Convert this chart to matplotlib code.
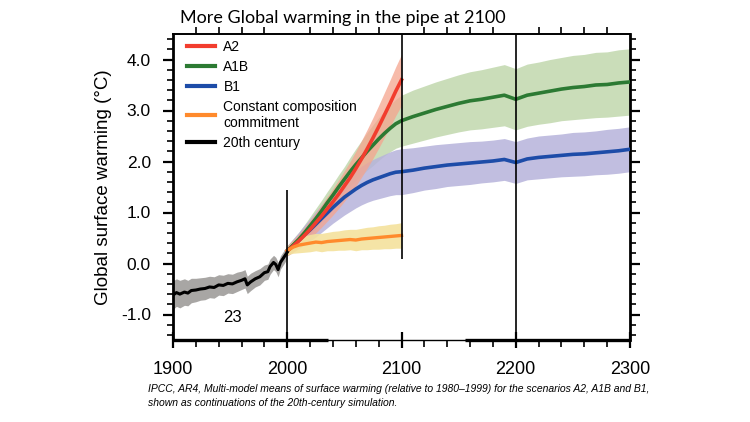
import matplotlib
matplotlib.use("Agg")
import matplotlib.pyplot as plt
import matplotlib.transforms as mtransforms
import numpy as np
from matplotlib.ticker import MultipleLocator
from matplotlib.lines import Line2D

# ---------------- data ----------------
years_20c = [1900, 1903, 1906, 1910, 1913, 1916, 1920, 1924, 1928, 1932, 1936, 1940,
             1944, 1948, 1952, 1956, 1960, 1963, 1965, 1968, 1972, 1976, 1980, 1983,
             1985, 1988, 1990, 1992, 1994, 1997, 2000]
temp_20c = [-0.62, -0.57, -0.60, -0.56, -0.58, -0.53, -0.52, -0.50, -0.49, -0.46, -0.47, -0.42,
            -0.43, -0.39, -0.40, -0.36, -0.33, -0.30, -0.42, -0.36, -0.30, -0.26, -0.18, -0.16,
            -0.06, 0.02, -0.02, -0.12, 0.02, 0.12, 0.22]
spread_20c = [0.28, 0.27, 0.27, 0.26, 0.25, 0.24, 0.23, 0.22, 0.22, 0.21, 0.21, 0.20,
              0.20, 0.19, 0.19, 0.19, 0.18, 0.18, 0.17, 0.17, 0.16, 0.16, 0.15, 0.15,
              0.15, 0.14, 0.14, 0.14, 0.13, 0.13, 0.12]

years_21c = [2000, 2005, 2010, 2015, 2020, 2025, 2030, 2035, 2040, 2045, 2050,
             2055, 2060, 2065, 2070, 2075, 2080, 2085, 2090, 2095, 2100]
years_ext = [2000, 2005, 2010, 2015, 2020, 2025, 2030, 2035, 2040, 2045, 2050,
             2055, 2060, 2065, 2070, 2075, 2080, 2085, 2090, 2095, 2100,
             2110, 2120, 2130, 2140, 2150, 2160, 2170, 2180, 2190, 2200,
             2210, 2220, 2230, 2240, 2250, 2260, 2270, 2280, 2290, 2300]

a2 = [0.25, 0.34, 0.44, 0.55, 0.67, 0.80, 0.93, 1.07, 1.21, 1.36, 1.52,
      1.68, 1.86, 2.05, 2.25, 2.46, 2.68, 2.91, 3.14, 3.38, 3.60]
a2_spread = [0.10, 0.12, 0.14, 0.16, 0.18, 0.20, 0.22, 0.24, 0.26, 0.28, 0.30,
             0.32, 0.34, 0.36, 0.38, 0.40, 0.42, 0.44, 0.46, 0.48, 0.50]

a1b = [0.25, 0.36, 0.47, 0.60, 0.74, 0.88, 1.03, 1.19, 1.34, 1.50, 1.65,
       1.80, 1.94, 2.07, 2.20, 2.32, 2.44, 2.55, 2.65, 2.74, 2.80,
       2.88, 2.95, 3.02, 3.08, 3.14, 3.19, 3.22, 3.26, 3.30, 3.22,
       3.30, 3.34, 3.38, 3.42, 3.45, 3.47, 3.50, 3.51, 3.54, 3.56]
a1b_spread = [0.10, 0.12, 0.14, 0.16, 0.18, 0.20, 0.21, 0.22, 0.23, 0.24, 0.25,
              0.28, 0.31, 0.34, 0.37, 0.40, 0.42, 0.44, 0.46, 0.48, 0.50,
              0.52, 0.53, 0.54, 0.55, 0.56, 0.57, 0.58, 0.59, 0.60, 0.60,
              0.61, 0.61, 0.62, 0.62, 0.63, 0.63, 0.64, 0.64, 0.65, 0.65]

b1 = [0.25, 0.35, 0.45, 0.56, 0.66, 0.77, 0.88, 0.99, 1.10, 1.20, 1.30,
      1.38, 1.46, 1.53, 1.59, 1.64, 1.68, 1.72, 1.76, 1.79, 1.80,
      1.83, 1.87, 1.90, 1.93, 1.95, 1.97, 1.99, 2.01, 2.04, 1.98,
      2.05, 2.08, 2.10, 2.12, 2.14, 2.15, 2.17, 2.19, 2.21, 2.24]
b1_spread = [0.10, 0.13, 0.16, 0.19, 0.22, 0.25, 0.27, 0.29, 0.31, 0.33, 0.35,
             0.36, 0.37, 0.38, 0.39, 0.40, 0.41, 0.42, 0.43, 0.44, 0.45,
             0.44, 0.43, 0.43, 0.42, 0.42, 0.42, 0.41, 0.41, 0.41, 0.41,
             0.41, 0.42, 0.42, 0.42, 0.43, 0.43, 0.43, 0.44, 0.44, 0.44]

commit = [0.25, 0.32, 0.36, 0.38, 0.40, 0.42, 0.41, 0.43, 0.44, 0.45, 0.46,
          0.47, 0.46, 0.48, 0.49, 0.50, 0.51, 0.52, 0.53, 0.54, 0.55]
commit_spread = [0.08, 0.12, 0.15, 0.16, 0.17, 0.17, 0.18, 0.18, 0.19, 0.19, 0.20,
                 0.20, 0.21, 0.21, 0.22, 0.22, 0.23, 0.23, 0.24, 0.24, 0.25]

divider_years = [2000, 2100, 2200]
divider_bottom = [-1.5, 0.08, -1.5]
divider_top = [1.45, 4.5, 4.5]

legend_labels = ["A2", "A1B", "B1", "Constant composition\ncommitment", "20th century"]
xticks = [1900, 2000, 2100, 2200, 2300]
yticks = [-1.0, 0.0, 1.0, 2.0, 3.0, 4.0]

title = "More Global warming in the pipe at 2100"
ylabel = "Global surface warming (°C)"
caption = ("IPCC, AR4, Multi-model means of surface warming (relative to 1980\u20131999) for the scenarios A2, A1B and B1,\n"
           "shown as continuations of the 20th-century simulation.")

# ---------------- styling ----------------
plt.rcParams['font.family'] = ['Liberation Sans', 'DejaVu Sans']

c_red, c_green, c_blue, c_orange = "#f23d2e", "#2c7a33", "#1d4ca8", "#ff8a2c"
b_red, b_green, b_blue, b_yellow, b_grey = "#f5a48e", "#c7dcb6", "#b6b3db", "#f4e29c", "#a8a6a4"

fig = plt.figure(figsize=(7.5, 4.22), dpi=100)
ax = fig.add_axes([173/750, 1-340/422, (630-173)/750, (340-34)/422])

def band(x, y, s, color, alpha=1.0, z=1):
    y = np.asarray(y); s = np.asarray(s)
    ax.fill_between(x, y - s, y + s, color=color, lw=0, alpha=alpha, zorder=z)

band(years_ext, a1b, a1b_spread, b_green, 0.95, 1)
band(years_ext, b1, b1_spread, b_blue, 0.85, 1.1)
band(years_21c, a2, a2_spread, b_red, 0.75, 1.2)
band(years_21c, commit, commit_spread, b_yellow, 0.9, 1.3)
band(years_20c, temp_20c, spread_20c, b_grey, 1.0, 1.4)

ax.plot(years_ext, b1, color=c_blue, lw=2.6, zorder=3)
ax.plot(years_ext, a1b, color=c_green, lw=2.6, zorder=3.1)
ax.plot(years_21c, a2, color=c_red, lw=2.6, zorder=3.2)
ax.plot(years_21c, commit, color=c_orange, lw=2.4, zorder=3.3)
ax.plot(years_20c, temp_20c, color="black", lw=2.2, zorder=3.4)

ax.vlines(divider_years, divider_bottom, divider_top, color="black", lw=1.2, zorder=4)

ax.set_xlim(1900, 2300)
ax.set_ylim(-1.5, 4.5)
ax.set_xticks(xticks)
ax.set_xticklabels([str(v) for v in xticks])
ax.set_yticks(yticks)
ax.set_yticklabels([f"{v:.1f}" for v in yticks])
ax.xaxis.set_minor_locator(MultipleLocator(20))
ax.yaxis.set_minor_locator(MultipleLocator(0.2))

ax.tick_params(axis='x', which='major', direction='inout', length=12, width=1.6,
               labelsize=13, pad=9, top=False)
ax.tick_params(axis='x', which='minor', direction='out', length=5, width=1.2, top=True)
ax.tick_params(axis='y', which='major', direction='out', length=7, width=1.6,
               labelsize=12.5, pad=9, right=True)
ax.tick_params(axis='y', which='minor', direction='out', length=4, width=1.2, right=True)

for side, lw in (("left", 2.0), ("right", 2.0), ("top", 1.4)):
    ax.spines[side].set_linewidth(lw)
# bottom spine: thin overall with thick visible stretches, as in the scanned figure
ax.spines["bottom"].set_linewidth(1.0)
thick_spans = [(1900, 2036), (2156, 2300)]
btrans = mtransforms.blended_transform_factory(ax.transData, ax.transAxes)
for x0, x1 in thick_spans:
    ax.plot([x0, x1], [0, 0], transform=btrans, color="black", lw=2.4,
            clip_on=False, zorder=5, solid_capstyle="butt")

ax.set_ylabel(ylabel, fontsize=13.5, labelpad=6)

handles = [Line2D([], [], color=c, lw=3) for c in (c_red, c_green, c_blue, c_orange, "black")]
ax.legend(handles, legend_labels, loc="upper left", bbox_to_anchor=(0.01, 1.012),
          frameon=False, fontsize=10, handlelength=2.0, handletextpad=0.6,
          labelspacing=0.42, borderaxespad=0.3)

ax.text(1952, -1.05, "23", fontsize=12, ha="center", va="center")

fig.text(0.457, 0.957, title, fontsize=13, family=['Lato', 'DejaVu Sans'],
         ha="center", va="center")
fig.text(148/750, 1-396/422, caption, fontsize=7.5, style="italic",
         ha="left", va="center", linespacing=1.45)

fig.savefig("out.png", dpi=100)
